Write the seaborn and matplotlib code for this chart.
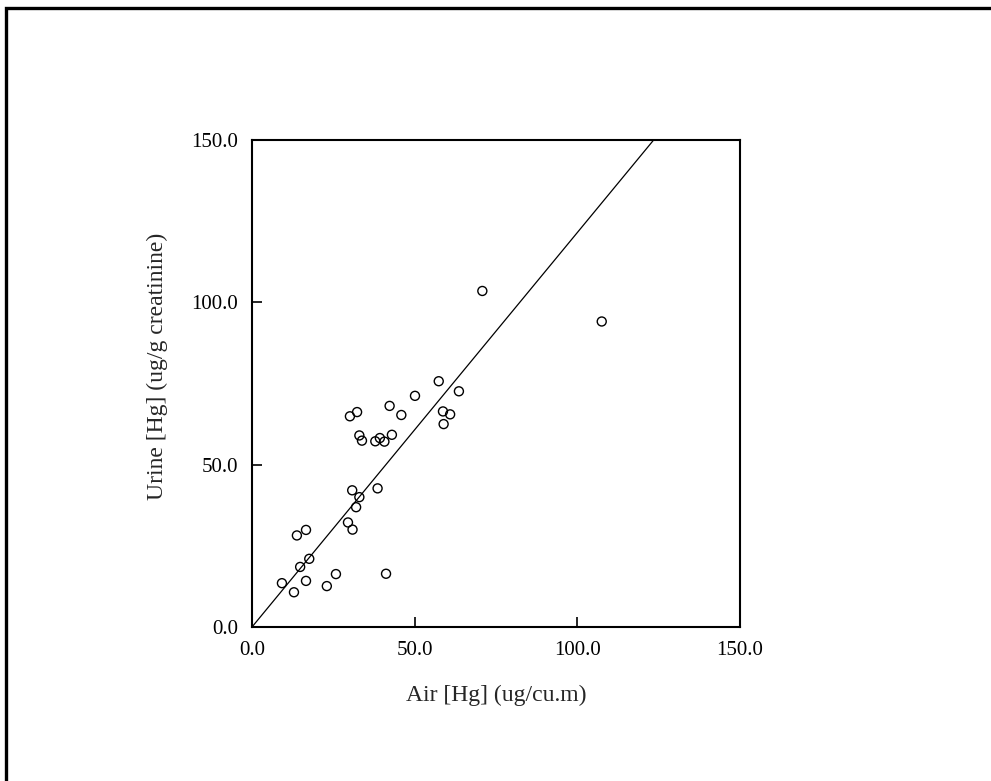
import numpy as np
import matplotlib
matplotlib.use('Agg')
import matplotlib.pyplot as plt
from matplotlib.patches import Rectangle
import seaborn as sns

# Hg exposure: air vs urine
air_hg = [9.2, 12.9, 14.8, 17.6, 16.6, 13.8, 16.6, 23.0, 25.8, 41.2,
          29.5, 30.9, 32.0, 33.0, 30.8, 38.6, 30.1, 32.3, 33.0, 33.8,
          37.9, 39.3, 40.7, 43.0, 42.3, 45.9, 50.1, 57.4, 63.6, 58.7,
          60.9, 58.9, 70.8, 107.5]
urine_hg = [13.5, 10.7, 18.5, 21.0, 14.2, 28.2, 29.9, 12.6, 16.3, 16.4,
            32.2, 30.0, 36.9, 40.0, 42.1, 42.7, 64.9, 66.2, 59.0, 57.4,
            57.2, 58.2, 57.1, 59.2, 68.1, 65.3, 71.2, 75.7, 72.6, 66.4,
            65.5, 62.5, 103.5, 94.1]

# fitted line through origin
fit_slope = 1.215
fit_intercept = 0.0
line_x = np.array([0.0, 150.0])

ticks = [0, 50, 100, 150]
tick_labels = ['0.0', '50.0', '100.0', '150.0']

sns.set_style('white')
plt.rcParams['font.family'] = ['Liberation Serif', 'DejaVu Serif']

fig = plt.figure(figsize=(9.91, 7.81), dpi=100)
ax = fig.add_axes([252 / 991, 1 - 627 / 781, 488 / 991, 487 / 781])

sns.lineplot(x=line_x, y=fit_slope * line_x + fit_intercept, ax=ax,
             color='black', linewidth=0.9)
sns.scatterplot(x=air_hg, y=urine_hg, ax=ax, marker='o', s=42,
                facecolors='none', edgecolor='black', linewidth=1.0)

ax.set_xlim(0, 150)
ax.set_ylim(0, 150)
ax.set_xticks(ticks)
ax.set_xticklabels(tick_labels)
ax.set_yticks(ticks)
ax.set_yticklabels(tick_labels)
ax.tick_params(direction='in', length=7, width=1.2, pad=10,
               labelsize=15, colors='black', bottom=True, left=True)

for sp in ax.spines.values():
    sp.set_linewidth(1.5)
    sp.set_color('black')

ax.set_xlabel('Air [Hg] (ug/cu.m)', fontsize=17, labelpad=18)
ax.set_ylabel('Urine [Hg] (ug/g creatinine)', fontsize=17)
ax.yaxis.set_label_coords(-0.172, 0.535)

# outer frame (only top and left edges fall inside the picture)
fig.patches.append(Rectangle((6 / 991, -0.5), 2.0, 1.5 - 8 / 781,
                             transform=fig.transFigure, fill=False,
                             edgecolor='black', linewidth=2.4))

fig.savefig('out.png', dpi=100)
